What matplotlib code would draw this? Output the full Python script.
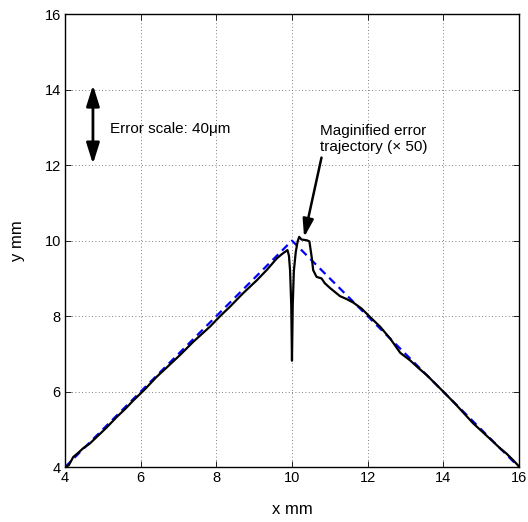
import matplotlib
matplotlib.use("Agg")
import matplotlib.pyplot as plt

plt.rcParams["font.family"] = ["Liberation Sans", "DejaVu Sans"]

# reference (commanded) trajectory
ref_x = [4.0, 10.0, 16.0]
ref_y = [4.0, 10.0, 4.0]

# measured trajectory with error magnified x50
err_x = [4.0, 4.1, 4.22, 4.35, 4.48, 4.65, 4.84, 5.1, 5.37, 5.6, 5.81, 6.1,
         6.42, 6.7, 7.04, 7.4, 7.83, 8.1, 8.36, 8.7, 9.07, 9.33, 9.6, 9.73,
         9.88, 9.92, 9.95, 9.98, 10.0, 10.02, 10.05, 10.1, 10.15, 10.19, 10.25,
         10.39, 10.46, 10.52, 10.56, 10.65, 10.78, 10.87, 11.0, 11.27, 11.45,
         11.62, 11.84, 12.06, 12.33, 12.6, 12.86, 13.12, 13.35, 13.56, 13.8,
         14.0, 14.35, 14.55, 14.79, 15.05, 15.32, 15.5, 15.67, 15.85, 16.0]
err_y = [4.0, 4.05, 4.27, 4.38, 4.5, 4.62, 4.8, 5.05, 5.33, 5.55, 5.77, 6.05,
         6.39, 6.65, 6.97, 7.33, 7.72, 8.0, 8.25, 8.6, 8.95, 9.22, 9.53, 9.64,
         9.75, 9.6, 9.2, 8.3, 6.82, 8.3, 9.2, 9.7, 9.98, 10.1, 10.03,
         10.01, 9.98, 9.57, 9.22, 9.04, 9.0, 8.87, 8.75, 8.53, 8.45,
         8.36, 8.2, 7.98, 7.72, 7.4, 7.03, 6.83, 6.62, 6.44, 6.2,
         6.0, 5.64, 5.42, 5.16, 4.92, 4.67, 4.5, 4.36, 4.18, 4.02]

ticks = [4, 6, 8, 10, 12, 14, 16]

fig = plt.figure(figsize=(5.28, 5.22), dpi=100)
ax = fig.add_axes([0.123, 0.105, 0.860, 0.868])

ax.plot(ref_x, ref_y, color="#0000ff", lw=1.6, dashes=(3.6, 2.4))
ax.plot(err_x, err_y, color="black", lw=1.6)

ax.set_xlim(4, 16)
ax.set_ylim(4, 16)
ax.set_xticks(ticks)
ax.set_yticks(ticks)
ax.tick_params(direction="in", top=True, right=True, length=4, width=0.6,
               labelsize=10.5, pad=3)
ax.grid(True, linestyle=(0, (1, 3)), color="#555555", lw=0.6)
for s in ax.spines.values():
    s.set_linewidth(1.0)

ax.set_xlabel("x mm", fontsize=12, labelpad=12)
ax.set_ylabel("y mm", fontsize=12, labelpad=14)

# error scale double arrow
ax.annotate("", xy=(4.74, 12.03), xytext=(4.74, 14.12),
            arrowprops=dict(arrowstyle="<|-|>,head_length=0.7,head_width=0.22",
                            color="black", lw=2, mutation_scale=18,
                            shrinkA=0, shrinkB=0))
ax.text(5.19, 12.95, "Error scale: 40\u03bcm", fontsize=11, va="center")

# pointer to magnified error trajectory
ax.annotate("", xy=(10.32, 10.09), xytext=(10.78, 12.2),
            arrowprops=dict(arrowstyle="-|>,head_length=0.6,head_width=0.18",
                            color="black", lw=1.8, mutation_scale=18,
                            shrinkA=0, shrinkB=0))
ax.text(10.74, 12.69, "Maginified error\ntrajectory (\u00d7 50)", fontsize=11,
        va="center", linespacing=1.15)

fig.savefig("out.png", dpi=100)
